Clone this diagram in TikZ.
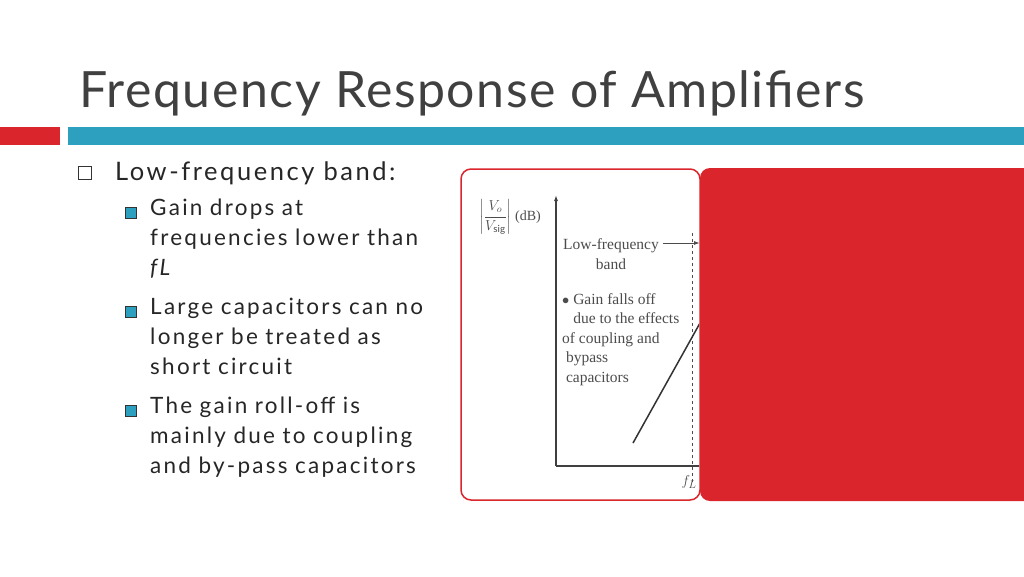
\documentclass[tikz,border=0pt]{standalone}
\usepackage{amsmath}
\usepackage{fontspec}
\setmainfont{Lato}
\newfontfamily\bodyfont[LetterSpace=10]{Lato}
\newfontfamily\figfont{Liberation Serif}
\usetikzlibrary{positioning, arrows.meta, calc}
\definecolor{slidered}{RGB}{218,37,44}
\definecolor{slideblue}{RGB}{44,160,190}
\definecolor{titlegray}{RGB}{64,64,64}

\begin{document}
\begin{tikzpicture}[ x = 1pt, y = -1pt
                     , >={Latex[width=4pt, length=6pt]}
                     , bodytext/.style = { anchor = west, inner sep = 0pt
                                         , font = \bodyfont\fontsize{22.5}{30}\selectfont
                                         , text = black!85 }
                     , subbox/.style = { draw = black!80, fill = slideblue
                                       , line width = 1.4pt, minimum size = 11pt
                                       , inner sep = 0pt }
                     , figtext/.style = { inner sep = 0pt, text = black!70
                                        , font = \figfont\fontsize{15.5}{19.5}\selectfont }
                     ]
  \useasboundingbox (0,0) rectangle (1024,576);

  % title and bars
  \node (title) [anchor = base west, inner sep = 0pt, text = titlegray,
        font = \fontsize{50}{50}\selectfont\addfontfeature{LetterSpace=3}] at (79,107) {Frequency Response of Amplifiers};
  \fill[slidered] (0,127) rectangle (60,145);
  \fill[slideblue] (68,127) rectangle (1024,145);

  % bullets
  \node (box1) [draw = black!80, line width = 1pt, minimum size = 13pt, inner sep = 0pt] at (85,173) {};
  \node (low) [bodytext, font = \bodyfont\fontsize{25.5}{30}\selectfont] at (115,173) {Low-frequency band:};
  \foreach \y/\name in {213/sbA, 312/sbB, 411/sbC}
    \node (\name) [subbox] at (131,\y) {};
  \node (gain) [bodytext, anchor = north west, text width = 320pt] at (150,199)
    {Gain drops at\\ frequencies lower than\\ \emph{fL}};
  \node (large) [bodytext, anchor = north west, text width = 320pt] at (150,298)
    {Large capacitors can no\\ longer be treated as\\ short circuit};
  \node (roll) [bodytext, anchor = north west, text width = 320pt] at (150,397)
    {The gain roll-off is\\ mainly due to coupling\\ and by-pass capacitors};

  % picture panels
  \draw[slidered, line width = 1.5pt, fill = white, rounded corners = 10pt] (461,169) rectangle (700,500);
  \fill[slidered, rounded corners = 10pt] (700,168) rectangle (1040,501);

  \begin{scope}
    \clip (462,170) rectangle (699,499);
    \coordinate (origin) at (556,466);
    \coordinate (ytop) at (556,195);
    \coordinate (xend) at (700,466);
    \draw[black!75, line width = 1.2pt, ->] (origin) -- (ytop);
    \draw[black!75, line width = 1.2pt] (origin) -- (xend);
    \draw[black!70, dashed, line width = 1pt] (692,233) -- (692,482);
    \coordinate (slopeA) at (633,443);
    \coordinate (slopeB) at (700,323);
    \draw[black!80, line width = 1.5pt] (slopeA) -- (slopeB);
    \node (ylabel) [figtext, font = \figfont\fontsize{14}{16}\selectfont] at (510,217)
      {$\left|\dfrac{V_o}{V_{\mathrm{sig}}}\right|$ (dB)};
    \node (bandlabel) [figtext, align = center] at (611,254) {Low-frequency\\band};
    \coordinate (bandtip) at (700,243);
    \draw[black!70, ->, line width = 1pt] (663,243) -- (bandtip);
    \node (falls) [figtext, align = left, anchor = north west] at (562,293)
      {$\bullet$ Gain falls off\\\phantom{$\bullet$} due to the effects\\of coupling and\\\phantom{\ }bypass\\\phantom{\ }capacitors};
    \node (fl) [figtext] at (689,482) {$f_L$};
  \end{scope}
\end{tikzpicture}
\end{document}
